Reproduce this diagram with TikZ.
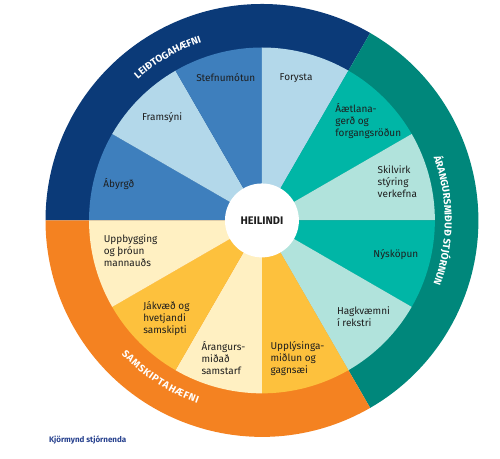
\documentclass[tikz,border=0pt]{standalone}
\usepackage{fontspec}
\setmainfont{Fira Sans}
\usetikzlibrary{decorations.text}
\definecolor{kjnavy}{HTML}{0B3A78}
\definecolor{kjblue}{HTML}{3E7FBD}
\definecolor{kjsky}{HTML}{B3D8EA}
\definecolor{kjpine}{HTML}{00877B}
\definecolor{kjteal}{HTML}{00B6A6}
\definecolor{kjmint}{HTML}{B1E3DC}
\definecolor{kjorange}{HTML}{F48221}
\definecolor{kjamber}{HTML}{FDC13D}
\definecolor{kjcream}{HTML}{FFF0C2}
\definecolor{kjink}{HTML}{1E1E1E}
\definecolor{kjcaption}{HTML}{27418E}
\newcommand{\ringfont}{\fontsize{10}{10}\selectfont\bfseries}
\tikzset{
  wedgetext/.style={text=kjink, align=left, inner sep=0pt,
                    font=\fontsize{10}{12}\selectfont},
  ringlabel/.style={decorate, decoration={text along path, text color=white,
                    text align=center, text={|\ringfont|#1}}}
}

\begin{document}
\begin{tikzpicture}
        \useasboundingbox (-9.21,-8.38) rectangle (8.37,7.75);

        % outer ring
        \fill[kjnavy] (0,0) -- (180:7.61) arc[start angle=180, end angle=60, radius=7.61] -- cycle;
        \fill[kjpine] (0,0) -- (60:7.61) arc[start angle=60, end angle=-60, radius=7.61] -- cycle;
        \fill[kjorange] (0,0) -- (-60:7.61) arc[start angle=-60, end angle=-180, radius=7.61] -- cycle;

        % inner wedges
        \fill[kjblue] (0,0) -- (180:6.08) arc[start angle=180, end angle=150, radius=6.08] -- cycle;
        \fill[kjsky] (0,0) -- (150:6.08) arc[start angle=150, end angle=120, radius=6.08] -- cycle;
        \fill[kjblue] (0,0) -- (120:6.08) arc[start angle=120, end angle=90, radius=6.08] -- cycle;
        \fill[kjsky] (0,0) -- (90:6.08) arc[start angle=90, end angle=60, radius=6.08] -- cycle;
        \fill[kjteal] (0,0) -- (60:6.08) arc[start angle=60, end angle=30, radius=6.08] -- cycle;
        \fill[kjmint] (0,0) -- (30:6.08) arc[start angle=30, end angle=0, radius=6.08] -- cycle;
        \fill[kjteal] (0,0) -- (0:6.08) arc[start angle=0, end angle=-30, radius=6.08] -- cycle;
        \fill[kjmint] (0,0) -- (-30:6.08) arc[start angle=-30, end angle=-60, radius=6.08] -- cycle;
        \fill[kjamber] (0,0) -- (-60:6.08) arc[start angle=-60, end angle=-90, radius=6.08] -- cycle;
        \fill[kjcream] (0,0) -- (-90:6.08) arc[start angle=-90, end angle=-120, radius=6.08] -- cycle;
        \fill[kjamber] (0,0) -- (-120:6.08) arc[start angle=-120, end angle=-150, radius=6.08] -- cycle;
        \fill[kjcream] (0,0) -- (-150:6.08) arc[start angle=-150, end angle=-180, radius=6.08] -- cycle;

        \fill[white] (0,0) circle[radius=1.30];
        \node[text=kjink, inner sep=0pt, font=\fontsize{11}{11}\selectfont\bfseries] (heilindi) at (0,0) {HEILINDI};

        \node[wedgetext] (stefnumotun) at (-1.27, 5.04) {Stefnumótun};
        \node[wedgetext] (forysta) at (1.20, 5.01) {Forysta};
        \node[wedgetext] (framsyni) at (-3.51, 3.60) {Framsýni};
        \node[wedgetext] (abyrgd) at (-5.03, 1.28) {Ábyrgð};
        \node[wedgetext] (aaetlun) at (3.74, 3.51) {Áætlana-\\gerð og\\forgangsröðun};
        \node[wedgetext] (skilvirk) at (4.76, 1.35) {Skilvirk\\stýring\\verkefna};
        \node[wedgetext] (nyskopun) at (4.71, -1.21) {Nýsköpun};
        \node[wedgetext] (hagkvaemni) at (3.57, -3.39) {Hagkvæmni\\í rekstri};
        \node[wedgetext] (upplysingar) at (1.25, -4.85) {Upplýsinga-\\miðlun og\\gagnsæi};
        \node[wedgetext] (samstarf) at (-1.35, -4.85) {Árangurs-\\miðað\\samstarf};
        \node[wedgetext] (samskipti) at (-3.36, -3.44) {Jákvæð og\\hvetjandi\\samskipti};
        \node[wedgetext] (mannaudur) at (-4.62, -1.07) {Uppbygging\\og þróun\\mannauðs};

        % ring labels
        \path[ringlabel=LEIÐTOGAHÆFNI] (150:6.61) arc[start angle=150, end angle=90, radius=6.61];
        \path[ringlabel=ÁRANGURSMIÐUÐ STJÓRNUN] (30:6.43) arc[start angle=30, end angle=-30, radius=6.43];
        \path[decorate, decoration={text along path, text color=white, text align={fit to path},
              text={|\ringfont|SAMSKIPTAHÆFNI}}] (223.6:6.82) arc[start angle=223.6, end angle=250.6, radius=6.82];

        \node[anchor=west, inner sep=0pt, text=kjcaption, font=\fontsize{8}{8}\selectfont\bfseries] (caption) at (-7.49, -7.71) {Kjörmynd stjórnenda};
      \end{tikzpicture}
\end{document}
